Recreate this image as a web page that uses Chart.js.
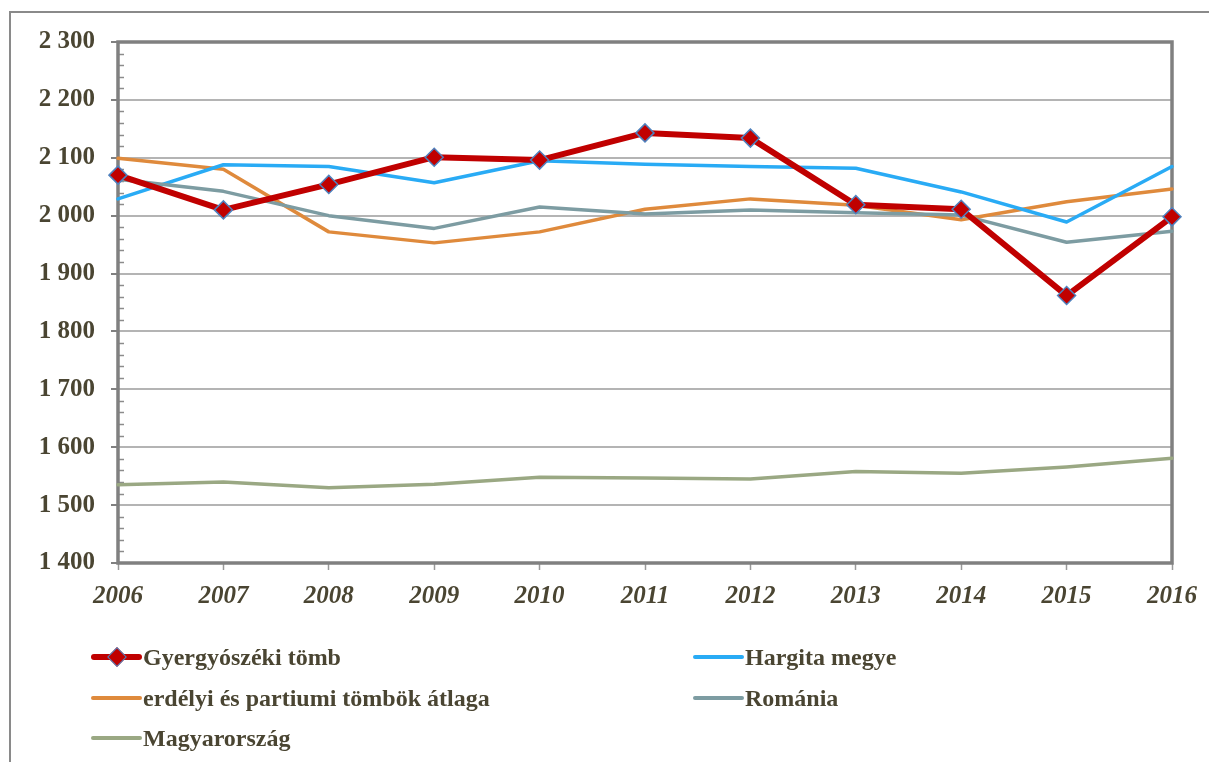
<!DOCTYPE html>
<html>
<head>
<meta charset="utf-8">
<script src="https://cdn.jsdelivr.net/npm/chart.js@4/dist/chart.umd.min.js"></script>
<style>
  html, body { margin:0; padding:0; background:#fff; overflow:hidden; }
  #wrap { position:relative; width:1209px; height:762px; }
  #frame { position:absolute; left:9px; top:11px; width:1400px; height:900px;
           border-left:2px solid #8a8a8a; border-top:2px solid #8a8a8a; }
  #myChart { position:absolute; left:0; top:0; }
  .leg { position:absolute; display:flex; align-items:center; height:30px;
         font-family:'Liberation Serif','Times New Roman',serif; font-weight:bold;
         font-size:24px; color:#4a4532; white-space:nowrap; }
  .sample { position:relative; width:51px; height:30px; margin-right:1px; }
  .sample .ln { position:absolute; left:0; right:0; top:50%; border-radius:3px; }
  .sample .dm { position:absolute; left:50%; top:50%; width:12px; height:12px;
                margin-left:-7px; margin-top:-7px; transform:rotate(45deg);
                border:1.5px solid #4f81bd; }
</style>
</head>
<body>
<div id="wrap">
  <div id="frame"></div>
  <canvas id="myChart" width="1209" height="762"></canvas>
  <div id="legend"></div>
</div>
<script>
const years = ['2006','2007','2008','2009','2010','2011','2012','2013','2014','2015','2016'];

const gyergyo = [2070, 2010, 2054, 2101, 2096, 2143, 2134, 2019, 2011, 1862, 1998];
const hargita = [2029, 2088, 2085, 2057, 2095, 2089, 2085, 2082, 2041, 1989, 2085];
const erdelyi = [2099, 2080, 1972, 1953, 1972, 2011, 2029, 2018, 1993, 2024, 2046];
const romania = [2063, 2042, 2000, 1978, 2015, 2003, 2010, 2005, 2001, 1954, 1973];
const magyar  = [1535, 1540, 1530, 1536, 1548, 1547, 1545, 1558, 1555, 1566, 1581];

const yMin = 1400;
const yMax = 2300;
const yStep = 100;
const minorStep = 20;

const textColor = '#4a4532';
const serif = "'Liberation Serif', 'Times New Roman', serif";

const data = {
    labels: years,
    datasets: [{
        label: 'Gyergyószéki tömb',
        data: gyergyo,
        borderColor: '#c00000',
        backgroundColor: '#c00000',
        borderWidth: 6,
        pointStyle: 'rectRot',
        pointRadius: 9,
        pointBorderColor: '#4f81bd',
        pointBackgroundColor: '#c00000',
        pointBorderWidth: 1.5,
        order: 0
    },{
        label: 'Hargita megye',
        data: hargita,
        borderColor: '#29abf5',
        borderWidth: 3.5,
        pointRadius: 0,
        order: 2
    },{
        label: 'erdélyi és partiumi tömbök átlaga',
        data: erdelyi,
        borderColor: '#df8a3c',
        borderWidth: 3.5,
        pointRadius: 0,
        order: 3
    },{
        label: 'Románia',
        data: romania,
        borderColor: '#7d9ca2',
        borderWidth: 3.5,
        pointRadius: 0,
        order: 1
    },{
        label: 'Magyarország',
        data: magyar,
        borderColor: '#9aa883',
        borderWidth: 3.5,
        pointRadius: 0,
        order: 4
    }]
};

// frame round the plot area and small minor ticks on the y axis
const framePlugin = {
    id: 'frame',
    beforeDatasetsDraw(chart) {
        const a = chart.chartArea;
        const y = chart.scales.y;
        const ctx = chart.ctx;
        ctx.save();
        ctx.strokeStyle = '#8c8c8c';
        ctx.lineWidth = 1.5;
        for (let v = yMin; v <= yMax; v += minorStep) {
            if (v % yStep === 0) continue;
            const py = Math.round(y.getPixelForValue(v)) + 0.5;
            ctx.beginPath();
            ctx.moveTo(a.left, py);
            ctx.lineTo(a.left + 6, py);
            ctx.stroke();
        }
        ctx.strokeStyle = '#808080';
        ctx.lineWidth = 3.5;
        ctx.strokeRect(a.left, a.top, a.right - a.left, a.bottom - a.top);
        ctx.restore();
    }
};

const conf = {
    type: 'line',
    data: data,
    options: {
        responsive: false,
        animation: false,
        layout: { padding: { left: 10, top: 42, right: 37, bottom: 149 } },
        elements: { line: { tension: 0, borderCapStyle: 'round', borderJoinStyle: 'round' } },
        datasets: { line: { clip: false } },
        plugins: { legend: { display: false }, tooltip: { enabled: false } },
        scales: {
            x: {
                offset: false,
                afterFit(scale) { scale.height = 50; },
                border: { display: false },
                grid: { drawOnChartArea: false, drawTicks: true, tickLength: 7, tickColor: '#999', tickWidth: 1.5 },
                ticks: {
                    color: textColor,
                    padding: 12,
                    maxRotation: 0,
                    font: { family: serif, size: 25, weight: 'bold', style: 'italic' }
                }
            },
            y: {
                min: yMin,
                max: yMax,
                afterFit(scale) { scale.width = 108; },
                border: { display: false },
                grid: { color: '#b4b4b4', lineWidth: 2, tickColor: '#808080', tickLength: 7, tickWidth: 2 },
                ticks: {
                    stepSize: yStep,
                    color: textColor,
                    padding: 16,
                    font: { family: serif, size: 25, weight: 'bold' },
                    callback: v => String(v).replace(/\B(?=(\d{3})+(?!\d))/g, ' ')
                }
            }
        }
    },
    plugins: [framePlugin]
};

const ctx = document.getElementById('myChart').getContext('2d');
const chart = new Chart(ctx, conf);

// two-column legend under the chart, built from the datasets
const legendPos = [[91, 642], [693, 642], [91, 683], [693, 683], [91, 723]];
const legendBox = document.getElementById('legend');
chart.data.datasets.forEach((ds, i) => {
    const item = document.createElement('div');
    item.className = 'leg';
    item.style.left = legendPos[i][0] + 'px';
    item.style.top = legendPos[i][1] + 'px';
    const sample = document.createElement('div');
    sample.className = 'sample';
    const ln = document.createElement('div');
    ln.className = 'ln';
    const w = i === 0 ? 6 : 4;
    ln.style.height = w + 'px';
    ln.style.marginTop = (-w / 2) + 'px';
    ln.style.background = ds.borderColor;
    sample.appendChild(ln);
    if (ds.pointStyle === 'rectRot') {
        const dm = document.createElement('div');
        dm.className = 'dm';
        dm.style.background = ds.pointBackgroundColor;
        sample.appendChild(dm);
    }
    item.appendChild(sample);
    item.appendChild(document.createTextNode(ds.label));
    legendBox.appendChild(item);
});
</script>
</body>
</html>
